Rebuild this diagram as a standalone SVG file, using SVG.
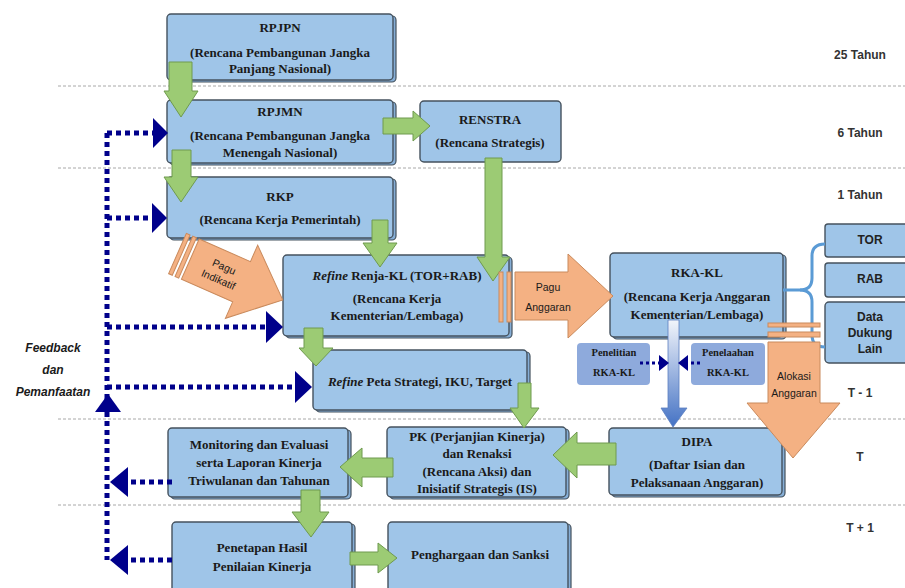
<svg xmlns="http://www.w3.org/2000/svg" width="905" height="588" viewBox="0 0 905 588">
<defs>
<style>
.bx{fill:#9fc5e8;stroke:#45525e;stroke-width:1.4}
.sh{fill:#86aed6;stroke:#45525e;stroke-width:1.2}
.sb{fill:#8eaadc;stroke:none}
.t{font-family:"Liberation Serif",serif;font-weight:bold;font-size:13px;fill:#1a1a1a;text-anchor:middle}
.ts{font-family:"Liberation Serif",serif;font-weight:bold;font-size:10.5px;fill:#1a1a1a;text-anchor:middle}
.tn{font-family:"Liberation Sans",sans-serif;font-weight:bold;font-size:12px;fill:#222;text-anchor:middle}
.to{font-family:"Liberation Sans",sans-serif;font-size:10.5px;fill:#1a1a1a;text-anchor:middle}
.tl{font-family:"Liberation Sans",sans-serif;font-weight:bold;font-size:12px;fill:#333;text-anchor:middle}
.g{fill:#9ccb74;stroke:#6f9a4e;stroke-width:1}
.o{fill:#f4b183;stroke:#c98a5c;stroke-width:1}
.dl{fill:none;stroke:#00008b;stroke-width:5;stroke-dasharray:5 4}
.ds{fill:none;stroke:#00008b;stroke-width:3;stroke-dasharray:3 3}
.nh{fill:#00008b}
.hr{stroke:#a8a8a8;stroke-width:1;stroke-dasharray:3 2}
</style>
<linearGradient id="bg" x1="0" y1="0" x2="0" y2="1">
<stop offset="0" stop-color="#f2f5fb"/>
<stop offset="1" stop-color="#4472c4"/>
</linearGradient>
</defs>

<g id="gridlines">
<line class="hr" x1="58" y1="86" x2="905" y2="86"/>
<line class="hr" x1="58" y1="168" x2="905" y2="168"/>
<line class="hr" x1="58" y1="419" x2="905" y2="419"/>
<line class="hr" x1="58" y1="505" x2="905" y2="505"/>
</g>

<g id="period-labels">
<text class="tl" x="860" y="59">25 Tahun</text>
<text class="tl" x="860" y="137">6 Tahun</text>
<text class="tl" x="860" y="199">1 Tahun</text>
<text class="tl" x="860" y="397">T - 1</text>
<text class="tl" x="860" y="461">T</text>
<text class="tl" x="860" y="532">T + 1</text>
</g>

<g id="feedback-label">
<text x="53" y="352" font-family="Liberation Sans, sans-serif" font-size="12" font-weight="bold" font-style="italic" text-anchor="middle" fill="#1a1a1a">Feedback</text>
<text x="53" y="374" font-family="Liberation Sans, sans-serif" font-size="12" font-weight="bold" font-style="italic" text-anchor="middle" fill="#1a1a1a">dan</text>
<text x="53" y="396" font-family="Liberation Sans, sans-serif" font-size="12" font-weight="bold" font-style="italic" text-anchor="middle" fill="#1a1a1a">Pemanfaatan</text>
</g>

<g id="n-rpjpn">
<rect class="sh" x="170" y="16" width="226" height="66" rx="4"/>
<rect class="bx" x="167" y="14" width="226" height="66" rx="4"/>
<text class="t" x="280" y="32">RPJPN</text>
<text class="t" x="280" y="57">(Rencana Pembangunan Jangka</text>
<text class="t" x="280" y="73">Panjang Nasional)</text>
</g>

<g id="n-rpjmn">
<rect class="sh" x="170" y="102" width="226" height="63" rx="4"/>
<rect class="bx" x="167" y="100" width="226" height="63" rx="4"/>
<text class="t" x="280" y="116">RPJMN</text>
<text class="t" x="280" y="140">(Rencana Pembangunan Jangka</text>
<text class="t" x="280" y="157">Menengah Nasional)</text>
</g>

<g id="n-renstra">
<rect class="bx" x="420" y="101" width="141" height="61" rx="4"/>
<text class="t" x="490" y="124">RENSTRA</text>
<text class="t" x="490" y="147">(Rencana Strategis)</text>
</g>

<g id="n-rkp">
<rect class="sh" x="170" y="179" width="226" height="61" rx="4"/>
<rect class="bx" x="167" y="177" width="226" height="61" rx="4"/>
<text class="t" x="280" y="201">RKP</text>
<text class="t" x="280" y="224">(Rencana Kerja Pemerintah)</text>
</g>

<g id="n-renja">
<rect class="sh" x="286" y="257" width="226" height="81" rx="4"/>
<rect class="bx" x="283" y="255" width="226" height="81" rx="4"/>
<text class="t" x="397" y="280"><tspan font-style="italic">Refine</tspan> Renja-KL (TOR+RAB)</text>
<text class="t" x="397" y="303">(Rencana Kerja</text>
<text class="t" x="397" y="320">Kementerian/Lembaga)</text>
</g>

<g id="n-rkakl">
<rect class="sh" x="613" y="255" width="173" height="84" rx="4"/>
<rect class="bx" x="610" y="253" width="173" height="84" rx="4"/>
<text class="t" x="697" y="277">RKA-KL</text>
<text class="t" x="697" y="301">(Rencana Kerja Anggaran</text>
<text class="t" x="697" y="319">Kementerian/Lembaga)</text>
</g>

<g id="n-tor">
<rect class="bx" x="825" y="224" width="95" height="33" rx="3"/>
<text class="tn" x="870" y="244">TOR</text>
</g>
<g id="n-rab">
<rect class="bx" x="825" y="263" width="95" height="34" rx="3"/>
<text class="tn" x="870" y="283">RAB</text>
</g>
<g id="n-data">
<rect class="bx" x="825" y="302" width="95" height="61" rx="4"/>
<text class="tn" x="870" y="321">Data</text>
<text class="tn" x="870" y="337">Dukung</text>
<text class="tn" x="870" y="353">Lain</text>
</g>

<g id="n-penelitian">
<rect class="sb" x="577" y="343" width="73" height="42" rx="4"/>
<text class="ts" x="614" y="356">Penelitian</text>
<text class="ts" x="614" y="376">RKA-KL</text>
</g>
<g id="n-penelaahan">
<rect class="sb" x="691" y="343" width="74" height="42" rx="4"/>
<text class="ts" x="728" y="356">Penelaahan</text>
<text class="ts" x="728" y="376">RKA-KL</text>
</g>

<g id="n-peta">
<rect class="sh" x="316" y="352" width="214" height="60" rx="4"/>
<rect class="bx" x="313" y="350" width="214" height="60" rx="4"/>
<text class="t" x="420" y="386"><tspan font-style="italic">Refine</tspan> Peta Strategi, IKU, Target</text>
</g>

<g id="n-dipa">
<rect class="sh" x="612" y="430" width="173" height="67" rx="4"/>
<rect class="bx" x="609" y="428" width="173" height="67" rx="4"/>
<text class="t" x="697" y="446">DIPA</text>
<text class="t" x="697" y="469">(Daftar Isian dan</text>
<text class="t" x="697" y="487">Pelaksanaan Anggaran)</text>
</g>

<g id="n-pk">
<rect class="sh" x="390" y="429" width="179" height="70" rx="4"/>
<rect class="bx" x="387" y="427" width="179" height="70" rx="4"/>
<text class="t" x="477" y="441">PK (Perjanjian Kinerja)</text>
<text class="t" x="477" y="458">dan Renaksi</text>
<text class="t" x="477" y="476">(Rencana Aksi) dan</text>
<text class="t" x="477" y="493">Inisiatif Strategis (IS)</text>
</g>

<g id="n-monev">
<rect class="sh" x="171" y="430" width="180" height="69" rx="4"/>
<rect class="bx" x="168" y="428" width="180" height="69" rx="4"/>
<text class="t" x="259" y="449">Monitoring dan Evaluasi</text>
<text class="t" x="259" y="467">serta Laporan Kinerja</text>
<text class="t" x="259" y="485">Triwulanan dan Tahunan</text>
</g>

<g id="n-penetapan">
<rect class="sh" x="175" y="524" width="180" height="80" rx="4"/>
<rect class="bx" x="172" y="522" width="180" height="80" rx="4"/>
<text class="t" x="262" y="552">Penetapan Hasil</text>
<text class="t" x="262" y="571">Penilaian Kinerja</text>
</g>

<g id="n-penghargaan">
<rect class="sh" x="391" y="524" width="180" height="80" rx="4"/>
<rect class="bx" x="388" y="522" width="180" height="80" rx="4"/>
<text class="t" x="480" y="559">Penghargaan dan Sanksi</text>
</g>

<g id="connectors">
<!-- brace -->
<path d="M783,290 H800 Q812,290 812,278 V256 Q812,244 825,244" fill="none" stroke="#5b9bd5" stroke-width="3"/>
<path d="M800,290 Q812,290 812,302 V335 Q812,347 825,347" fill="none" stroke="#5b9bd5" stroke-width="3"/>

<!-- green arrows -->
<polygon class="g" points="169,62 192,62 192,91 198,91 181,117 164,91 169,91"/>
<polygon class="g" points="172,150 191,150 191,177 198,177 181,202 164,177 172,177"/>
<polygon class="g" points="383,118 413,118 413,111 430,126 413,141 413,134 383,134"/>
<polygon class="g" points="485,158 502,158 502,257 510,257 493,281 477,257 485,257"/>
<polygon class="g" points="372,220 388,220 388,243 397,243 380,267 363,243 372,243"/>
<polygon class="g" points="304,328 323,328 323,348 333,348 316,366 299,348 304,348"/>
<polygon class="g" points="518,383 531,383 531,408 539,408 524,428 510,408 518,408"/>
<polygon class="g" points="616,443 577,443 577,432 553,455 577,478 577,465 616,465"/>
<polygon class="g" points="393,458 362,458 362,448 340,467 362,487 362,477 393,477"/>
<polygon class="g" points="301,490 320,490 320,512 329,512 311,537 292,512 301,512"/>
<polygon class="g" points="350,552 378,552 378,543 397,558 378,573 378,565 350,565"/>

<!-- Pagu Indikatif -->
<g transform="translate(177.5,253.5) rotate(23.8)">
<rect class="o" x="0" y="-22" width="4" height="44"/>
<rect class="o" x="7" y="-22" width="4" height="44"/>
<polygon class="o" points="14,-22 70,-22 70,-40 115,0 70,40 70,22 14,22"/>
<text class="to" x="48" y="-3">Pagu</text>
<text class="to" x="48" y="11">Indikatif</text>
</g>

<!-- Pagu Anggaran -->
<rect class="o" x="499" y="272" width="4" height="50"/>
<rect class="o" x="507" y="272" width="4" height="50"/>
<polygon class="o" points="515,272 568,272 568,254 613,296 568,338 568,320 515,320"/>
<text class="to" x="548" y="291">Pagu</text>
<text class="to" x="548" y="311">Anggaran</text>

<!-- Alokasi Anggaran -->
<rect class="o" x="768" y="323" width="52" height="4"/>
<rect class="o" x="768" y="332" width="52" height="5"/>
<polygon class="o" points="768,342 820,342 820,403 840,403 793,458 747,403 768,403"/>
<text class="to" x="794" y="380">Alokasi</text>
<text class="to" x="794" y="397">Anggaran</text>

<!-- RKA-KL to DIPA -->
<polygon points="668,320 679,320 679,408 687,408 673,427 661,408 668,408" fill="url(#bg)" stroke="#5a7fc0" stroke-width="0.8"/>
<line class="ds" x1="640" y1="363" x2="660" y2="363"/>
<polygon class="nh" points="659,355 669,363 659,371"/>
<line class="ds" x1="700" y1="363" x2="688" y2="363"/>
<polygon class="nh" points="688,355 678,363 688,371"/>

<!-- feedback -->
<line class="dl" x1="107" y1="133" x2="107" y2="560"/>
<line class="dl" x1="107" y1="133" x2="153" y2="133"/>
<polygon class="nh" points="153,118 168,133 153,148"/>
<line class="dl" x1="107" y1="218" x2="152" y2="218"/>
<polygon class="nh" points="152,203 167,218 152,233"/>
<line class="dl" x1="107" y1="327" x2="266" y2="327"/>
<polygon class="nh" points="266,311 283,327 266,343"/>
<line class="dl" x1="107" y1="387" x2="295" y2="387"/>
<polygon class="nh" points="295,371 312,387 295,403"/>
<polygon class="nh" points="95,412 121,412 108,394"/>
<line class="dl" x1="172" y1="482" x2="128" y2="482"/>
<polygon class="nh" points="128,467 110,482 128,497"/>
<line class="dl" x1="172" y1="560" x2="128" y2="560"/>
<polygon class="nh" points="128,545 110,560 128,575"/>
</g>
</svg>
